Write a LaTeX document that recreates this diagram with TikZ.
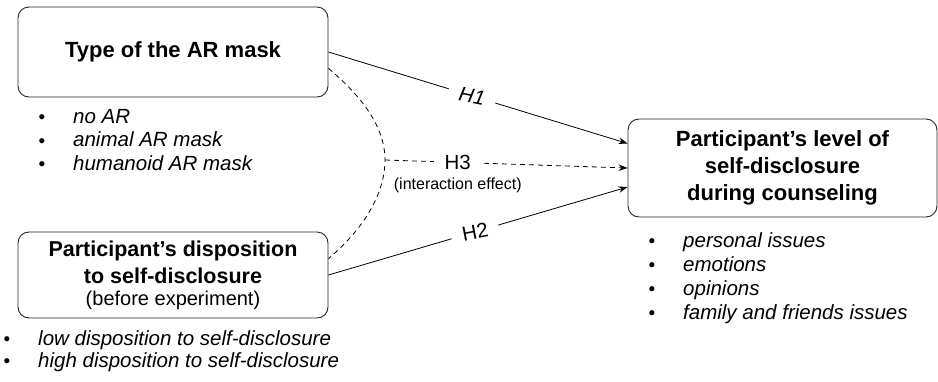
\documentclass[tikz,border=0pt]{standalone}
\usepackage{fontspec}
\setmainfont{Liberation Sans}
\usetikzlibrary{arrows.meta,positioning}

\tikzset{
  varbox/.style={draw=black!85,line width=0.9pt,rounded corners=11pt,align=center,font=\bfseries\fontsize{22}{27}\selectfont},
  level/.style={anchor=base west,inner sep=0pt,font=\itshape\fontsize{20.5}{24}\selectfont},
  hyp/.style={fill=white,inner xsep=11pt,inner ysep=2pt,font=\fontsize{20.5}{24}\selectfont},
  link/.style={line width=0.8pt,-{Stealth[length=9pt,width=6.5pt]}},
  interact/.style={line width=0.8pt,dash pattern=on 5pt off 4pt}
}
\newcommand{\dotitem}{\llap{\raisebox{-0.5pt}{\upshape\fontsize{19}{19}\selectfont\textbullet}\hspace{28pt}}}

\begin{document}
\begin{tikzpicture}[x=1pt,y=-1pt]
\useasboundingbox (0,0) rectangle (938,381);
\node[varbox,minimum width=310pt,minimum height=90pt] (mask) at (173,52) {Type of the AR mask};
\node[varbox,minimum width=310pt,minimum height=86pt,font=\bfseries\fontsize{21.5}{27.5}\selectfont] (disp) at (173,275) {Participant's disposition\\to self-disclosure\\[-6pt]{\normalfont\fontsize{20}{20}\selectfont(before experiment)}};
\node[varbox,minimum width=309pt,minimum height=98pt] (level) at (782.5,168) {Participant's level of\\self-disclosure\\during counseling};

\node[level] (noar) at (73,123) {\dotitem no AR};
\node[level] (animal) at (73,146.5) {\dotitem animal AR mask};
\node[level] (humanoid) at (73,170) {\dotitem humanoid AR mask};
\node[level] (low) at (38,345) {\dotitem low disposition to self-disclosure};
\node[level] (high) at (38,367) {\dotitem high disposition to self-disclosure};
\node[level] (personal) at (683,247) {\dotitem personal issues};
\node[level] (emotions) at (683,271) {\dotitem emotions};
\node[level] (opinions) at (683,295) {\dotitem opinions};
\node[level] (family) at (683,319) {\dotitem family and friends issues};

\coordinate (join) at (385,160);
\draw[link] (mask.east) -- node[hyp,rotate=-11,pos=0.48,font=\itshape\fontsize{20.5}{24}\selectfont] (h1) {H1} (level.171.8);
\draw[link] (disp.east) -- node[hyp,rotate=11,pos=0.49] (h2) {H2} (level.187.6);
\draw[link,interact] (join) -- node[hyp,pos=0.3] (h3) {H3} (level.west);
\node[font=\fontsize{16}{19}\selectfont,below=2pt of h3] (effect) {(interaction effect)};
\draw[interact] (mask.-6.6) .. controls (372,105) and (385,135) .. (join) .. controls (385,190) and (368,225) .. (disp.6.3);

\end{tikzpicture}
\end{document}
